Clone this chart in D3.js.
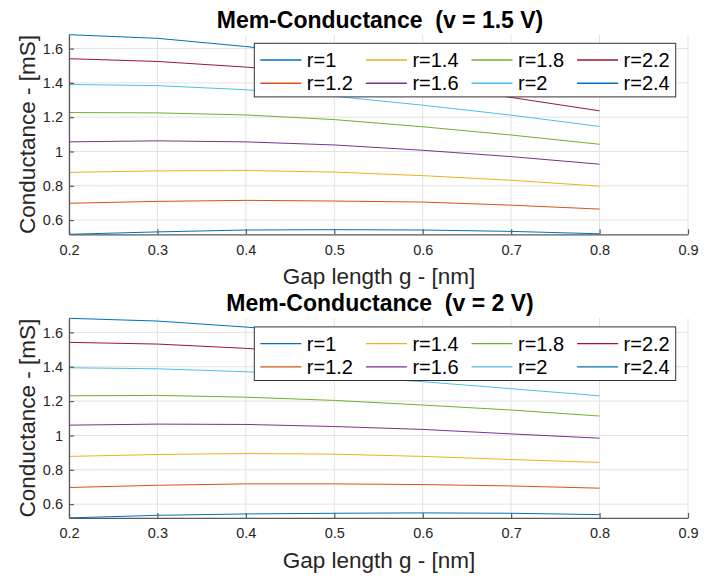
<!DOCTYPE html>
<html>
<head>
<meta charset="utf-8">
<script src="https://cdn.jsdelivr.net/npm/d3@7"></script>
<style>
  body { margin: 0; background: #fff; }
  text { font-family: "Liberation Sans", Arial, Helvetica, sans-serif; }
</style>
</head>
<body>
<script>
/*** global variable/s ***/
const width = 713;
const height = 577;

// gap length g [nm]
const gap = [0.2, 0.3, 0.4, 0.5, 0.6, 0.7, 0.8];
const rLabels = ["r=1", "r=1.2", "r=1.4", "r=1.6", "r=1.8", "r=2", "r=2.2", "r=2.4"];
const colors = ["#0072BD", "#D95319", "#EDB120", "#7E2F8E", "#77AC30", "#4DBEEE", "#A2142F", "#0072BD"];

// conductance [mS] per r, v = 1.5 V
const condV15 = [
  [0.517, 0.531, 0.542, 0.544, 0.542, 0.534, 0.520],
  [0.698, 0.709, 0.715, 0.711, 0.705, 0.687, 0.664],
  [0.878, 0.887, 0.889, 0.880, 0.859, 0.832, 0.798],
  [1.056, 1.062, 1.056, 1.038, 1.007, 0.970, 0.926],
  [1.227, 1.225, 1.213, 1.186, 1.144, 1.096, 1.042],
  [1.391, 1.384, 1.360, 1.322, 1.270, 1.212, 1.146],
  [1.541, 1.525, 1.492, 1.450, 1.390, 1.315, 1.237],
  [1.681, 1.660, 1.612, 1.555, 1.490, 1.415, 1.335]
];

// conductance [mS] per r, v = 2 V
const condV2 = [
  [0.520, 0.535, 0.543, 0.547, 0.549, 0.547, 0.539],
  [0.697, 0.710, 0.718, 0.718, 0.714, 0.706, 0.693],
  [0.878, 0.889, 0.895, 0.891, 0.878, 0.860, 0.843],
  [1.060, 1.066, 1.064, 1.052, 1.035, 1.009, 0.984],
  [1.231, 1.233, 1.223, 1.204, 1.177, 1.148, 1.113],
  [1.394, 1.388, 1.371, 1.345, 1.313, 1.272, 1.231],
  [1.542, 1.532, 1.507, 1.475, 1.440, 1.395, 1.350],
  [1.682, 1.666, 1.631, 1.590, 1.545, 1.495, 1.445]
];

const xTicks = [0.2, 0.3, 0.4, 0.5, 0.6, 0.7, 0.8, 0.9];
const yTicks = [0.6, 0.8, 1, 1.2, 1.4, 1.6];
const titles = ["Mem-Conductance  (v = 1.5 V)", "Mem-Conductance  (v = 2 V)"];
const xLabel = "Gap length g - [nm]";
const yLabel = "Conductance - [mS]";

const svg = d3.select("body")
  .append("svg")
  .attr("width", width)
  .attr("height", height);

const x = d3.scaleLinear().domain([0.2, 0.9]).range([69, 688]);

/*** our draw function ***/
function drawPanel(values, title, top, legendStroke) {
  const plotH = 199.6;
  const y = d3.scaleLinear()
    .domain(d3.extent(values.flat()))
    .range([top + plotH, top]);

  const g = svg.append("g");

  // grid
  g.append("g")
    .selectAll("line")
    .data(xTicks)
    .join("line")
    .attr("x1", d => x(d)).attr("x2", d => x(d))
    .attr("y1", top).attr("y2", top + plotH)
    .attr("stroke", "#e3e3e3");

  g.append("g")
    .selectAll("line")
    .data(yTicks)
    .join("line")
    .attr("x1", x.range()[0]).attr("x2", x.range()[1])
    .attr("y1", d => y(d)).attr("y2", d => y(d))
    .attr("stroke", "#e3e3e3");

  // curves
  const line = d3.line()
    .x((d, i) => x(gap[i]))
    .y(d => y(d));

  g.append("g")
    .selectAll("path")
    .data(values)
    .join("path")
    .attr("d", line)
    .attr("fill", "none")
    .attr("stroke", (d, i) => colors[i])
    .attr("stroke-width", 1);

  // axes
  const xAxis = g.append("g")
    .attr("transform", `translate(0,${top + plotH})`)
    .call(d3.axisBottom(x).tickValues(xTicks).tickFormat(d => String(d))
      .tickSizeInner(-5).tickSizeOuter(0).tickPadding(10));

  const yAxis = g.append("g")
    .attr("transform", `translate(${x.range()[0]},0)`)
    .call(d3.axisLeft(y).tickValues(yTicks).tickFormat(d => String(d))
      .tickSizeInner(-5).tickSizeOuter(0).tickPadding(6));

  [xAxis, yAxis].forEach(a => {
    a.select(".domain").attr("stroke", "#5a5a5a").attr("stroke-width", 1.3);
    a.selectAll(".tick line").attr("stroke", "#5a5a5a").attr("stroke-width", 1.2);
    a.selectAll(".tick text")
      .attr("fill", "#262626")
      .style("font-size", "14.5px")
      .style("font-family", "'Liberation Sans', Arial, sans-serif");
  });

  // labels
  g.append("text")
    .attr("x", 380)
    .attr("y", top - 7)
    .attr("text-anchor", "middle")
    .style("white-space", "pre")
    .style("font-size", "23px")
    .style("font-weight", "bold")
    .attr("fill", "#000")
    .text(title);

  g.append("text")
    .attr("x", 379)
    .attr("y", top + plotH + 50)
    .attr("text-anchor", "middle")
    .style("font-size", "22.5px")
    .attr("fill", "#262626")
    .text(xLabel);

  g.append("text")
    .attr("transform", `translate(35,${top + plotH / 2}) rotate(-90)`)
    .attr("text-anchor", "middle")
    .style("font-size", "22.5px")
    .attr("fill", "#262626")
    .text(yLabel);

  // legend, 2 rows x 4 columns, filled column by column
  const lg = g.append("g").attr("transform", `translate(254.3,${top + 8.6})`);
  lg.append("rect")
    .attr("width", 421.4)
    .attr("height", 53.6)
    .attr("fill", "#fff")
    .attr("stroke", "#333")
    .attr("stroke-width", 1);

  const item = lg.selectAll("g.item")
    .data(rLabels)
    .join("g")
    .attr("class", "item")
    .attr("transform", (d, i) => `translate(${6 + Math.floor(i / 2) * 105.6},${i % 2 === 0 ? 16.7 : 40})`);

  item.append("line")
    .attr("x1", 0).attr("x2", 41)
    .attr("stroke", (d, i) => colors[i])
    .attr("stroke-width", legendStroke);

  item.append("text")
    .attr("x", 46.5)
    .attr("dy", "0.35em")
    .style("font-size", "20px")
    .attr("fill", "#000")
    .text(d => d);
}

drawPanel(condV15, titles[0], 34.7, 1.6);
drawPanel(condV2, titles[1], 318.3, 1.1);
</script>
</body>
</html>
